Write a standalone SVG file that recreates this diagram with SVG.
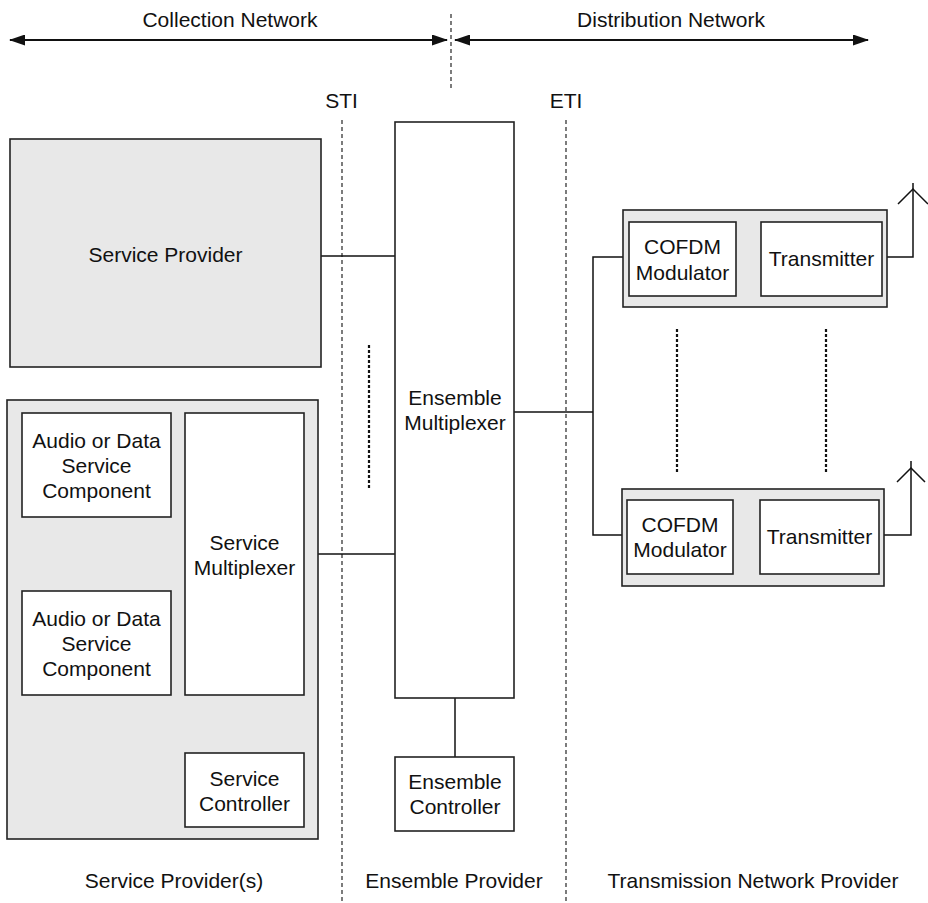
<svg xmlns="http://www.w3.org/2000/svg" width="928" height="903" viewBox="0 0 928 903">
<defs>
<marker id="ah" viewBox="0 0 16 11" refX="15" refY="5.5" markerWidth="16" markerHeight="11" markerUnits="userSpaceOnUse" orient="auto-start-reverse">
<path d="M0,0 L16,5.5 L0,11 Z" fill="#111"/>
</marker>
</defs>
<style>
text{font-family:"Liberation Sans",Arial,sans-serif;font-size:21px;fill:#111;text-anchor:middle}
.box{fill:#fff;stroke:#222;stroke-width:1.6}
.grp{fill:#e8e8e8;stroke:#222;stroke-width:1.6}
.ln{fill:none;stroke:#111;stroke-width:1.5}
.arr{fill:none;stroke:#111;stroke-width:2}
.dash{fill:none;stroke:#111;stroke-width:1.1;stroke-dasharray:4 3}
.dot{fill:none;stroke:#111;stroke-width:2.2;stroke-dasharray:3 2}
</style>
<rect width="928" height="903" fill="#fff"/>

<g id="labels">
<text x="230" y="27">Collection Network</text>
<text x="671" y="27">Distribution Network</text>
<text x="341.5" y="108">STI</text>
<text x="566" y="108">ETI</text>
<text x="174" y="888">Service Provider(s)</text>
<text x="454" y="888">Ensemble Provider</text>
<text x="753" y="888">Transmission Network Provider</text>
</g>

<g id="guides">
<line class="dash" x1="451" y1="14" x2="451" y2="88"/>
<line class="dash" x1="342" y1="120" x2="342" y2="903"/>
<line class="dash" x1="566" y1="120" x2="566" y2="903"/>
<line class="dot" x1="369" y1="345" x2="369" y2="488"/>
<line class="dot" x1="677" y1="329" x2="677" y2="472"/>
<line class="dot" x1="826" y1="329" x2="826" y2="472"/>
</g>

<g id="connectors">
<line class="arr" x1="10" y1="40" x2="447" y2="40" marker-start="url(#ah)" marker-end="url(#ah)"/>
<line class="arr" x1="455" y1="40" x2="868" y2="40" marker-start="url(#ah)" marker-end="url(#ah)"/>
<line class="ln" x1="321" y1="256" x2="396" y2="256"/>
<line class="ln" x1="304" y1="554" x2="396" y2="554"/>
<line class="ln" x1="171" y1="466" x2="185" y2="466"/>
<line class="ln" x1="171" y1="643" x2="185" y2="643"/>
<line class="ln" x1="245" y1="695" x2="245" y2="753"/>
<line class="ln" x1="455" y1="698" x2="455" y2="757"/>
<line class="ln" x1="514" y1="412" x2="593" y2="412"/>
<polyline class="ln" points="623,257 593,257 593,535 622,535"/>
<line class="ln" x1="736" y1="258" x2="761" y2="258"/>
<line class="ln" x1="733" y1="537" x2="760" y2="537"/>
<polyline class="ln" points="882,257 913,257 913,183"/>
<polyline class="ln" points="898,204 913,189 928,204"/>
<polyline class="ln" points="879,535 911,535 911,461"/>
<polyline class="ln" points="897,482 911,468 925,482"/>
</g>

<g id="service-provider">
<rect class="grp" x="10" y="139" width="311" height="228"/>
<text x="165.5" y="262">Service Provider</text>
</g>

<g id="service-providers-group">
<rect class="grp" x="7" y="400" width="311" height="439"/>
</g>

<g id="audio-1">
<rect class="box" x="22" y="413" width="149" height="104"/>
<text x="96.5" y="448">Audio or Data</text>
<text x="96.5" y="473">Service</text>
<text x="96.5" y="498">Component</text>
</g>

<g id="audio-2">
<rect class="box" x="22" y="591" width="149" height="104"/>
<text x="96.5" y="626">Audio or Data</text>
<text x="96.5" y="651">Service</text>
<text x="96.5" y="676">Component</text>
</g>

<g id="service-multiplexer">
<rect class="box" x="185" y="413" width="119" height="282"/>
<text x="244.5" y="550">Service</text>
<text x="244.5" y="575">Multiplexer</text>
</g>

<g id="service-controller">
<rect class="box" x="185" y="753" width="119" height="74"/>
<text x="244.5" y="786">Service</text>
<text x="244.5" y="811">Controller</text>
</g>

<g id="ensemble-multiplexer">
<rect class="box" x="395" y="122" width="119" height="576"/>
<text x="455" y="405">Ensemble</text>
<text x="455" y="430">Multiplexer</text>
</g>

<g id="ensemble-controller">
<rect class="box" x="395" y="757" width="119" height="74"/>
<text x="455" y="789">Ensemble</text>
<text x="455" y="814">Controller</text>
</g>

<g id="tx-group-1">
<rect class="grp" x="623" y="210" width="264" height="97"/>
</g>
<g id="cofdm-1">
<rect class="box" x="629" y="222" width="107" height="74"/>
<text x="682.5" y="254">COFDM</text>
<text x="682.5" y="280">Modulator</text>
</g>
<g id="transmitter-1">
<rect class="box" x="761" y="222" width="121" height="74"/>
<text x="821.5" y="266">Transmitter</text>
</g>

<g id="tx-group-2">
<rect class="grp" x="622" y="489" width="262" height="97"/>
</g>
<g id="cofdm-2">
<rect class="box" x="627" y="500" width="106" height="74"/>
<text x="680" y="532">COFDM</text>
<text x="680" y="557">Modulator</text>
</g>
<g id="transmitter-2">
<rect class="box" x="760" y="500" width="119" height="74"/>
<text x="819.5" y="544">Transmitter</text>
</g>
</svg>
